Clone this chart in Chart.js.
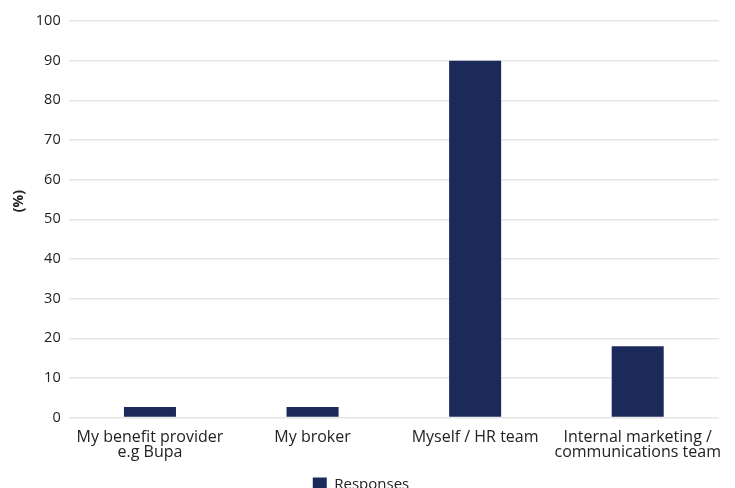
<!DOCTYPE html>
<html><head><meta charset="utf-8">
<script src="https://cdn.jsdelivr.net/npm/chart.js@4/dist/chart.umd.min.js"></script>
<style>html,body{margin:0;padding:0;background:#fff;overflow:hidden}#w{width:735px;height:502px}</style>
</head><body><div id="w"><canvas id="c" width="735" height="502"></canvas></div>
<script>
const categories = [["My benefit provider","e.g Bupa"],"My broker","Myself / HR team",["Internal marketing /","communications team"]];
const responses = [2.7, 2.7, 90, 18];
const yTicks = [0,10,20,30,40,50,60,70,80,90,100];
const seriesName = "Responses";
const yTitle = "\u00a0\u00a0\u00a0\u00a0\u00a0\u00a0\u00a0\u00a0\u00a0\u00a0(%)";

Chart.defaults.font.family = "'Open Sans', sans-serif";
Chart.defaults.color = "#222";
new Chart(document.getElementById('c'), {
  type: 'bar',
  data: { labels: categories, datasets: [{ label: seriesName, data: responses, backgroundColor: '#1b2a5a', borderWidth: 0, categoryPercentage: 1, barPercentage: 0.32 }] },
  options: {
    responsive: false, animation: false,
    layout: { padding: { left: 3, right: 16, top: 21, bottom: 0 } },
    plugins: {
      legend: { position: 'bottom', labels: { boxWidth: 14, boxHeight: 14, font: { size: 15 }, color: '#222', padding: 13 } },
      tooltip: { enabled: false }
    },
    scales: {
      x: { grid: { display: false }, border: { display: false }, ticks: { font: { size: 16, lineHeight: 0.95 }, color: '#222', maxRotation: 0, autoSkip: false, padding: 4 } },
      y: { min: 0, max: 100, afterBuildTicks: s => { s.ticks = yTicks.map(v => ({ value: v })); },
           grid: { color: '#e6e6e6', lineWidth: 1.5, drawTicks: false }, border: { display: false },
           ticks: { font: { size: 14.5 }, color: '#222', padding: 8 },
           title: { display: true, text: yTitle, font: { size: 14, weight: 'bold' }, color: '#222', padding: { top: 8, bottom: 0 } } }
    }
  }
});
</script></body></html>
